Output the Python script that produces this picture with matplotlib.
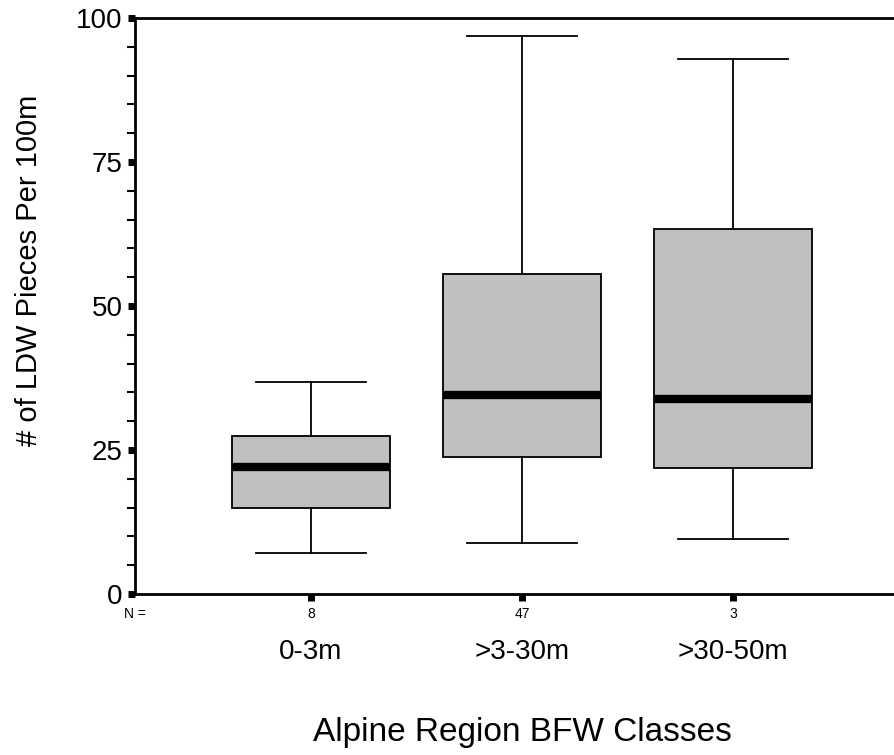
import numpy as np
import matplotlib.pyplot as plt
from matplotlib.ticker import MultipleLocator, FixedLocator

plt.rcParams['font.family'] = ['Liberation Sans', 'DejaVu Sans']

# klasy szerokości koryta i liczebności
klasy = ["0-3m", ">3-30m", ">30-50m"]
liczebnosc = [8, 47, 3]

# statystyki
dolneWasy = [7.1, 8.9, 9.5]
kwartyl1 = [14.9, 23.8, 21.9]
mediany = [22.0, 34.5, 33.9]
kwartyl3 = [27.4, 55.6, 63.4]
gorneWasy = [36.8, 96.9, 92.9]

statystyki = []
for i in range(len(klasy)):
    statystyki.append({
        "label": klasy[i],
        "whislo": dolneWasy[i],
        "q1": kwartyl1[i],
        "med": mediany[i],
        "q3": kwartyl3[i],
        "whishi": gorneWasy[i],
        "fliers": [],
    })

fig = plt.figure(figsize=(8.94, 7.55), dpi=100)
ax = fig.add_axes([135 / 894, 1 - 594 / 755, 1 - 135 / 894, (594 - 18) / 755])

pozycje = np.arange(1, len(klasy) + 1)
ax.bxp(statystyki, positions=pozycje, widths=0.75, capwidths=0.52,
       patch_artist=True, showfliers=False, manage_ticks=False,
       boxprops=dict(facecolor="#c0c0c0", edgecolor="black", linewidth=1.3),
       whiskerprops=dict(color="black", linewidth=1.3),
       capprops=dict(color="black", linewidth=1.3),
       medianprops=dict(color="black", linewidth=6, solid_capstyle="butt"))

ax.set_xlim(0.166, 3.763)
ax.set_ylim(0, 100)

ax.spines["right"].set_visible(False)
for s in ["left", "bottom", "top"]:
    ax.spines[s].set_linewidth(2)

ax.yaxis.set_major_locator(MultipleLocator(25))
ax.yaxis.set_minor_locator(FixedLocator([v for v in range(5, 100, 5) if v % 25 != 0]))
ax.tick_params(axis="y", which="major", direction="out", length=5, width=5,
               labelsize=20, pad=4)
ax.tick_params(axis="y", which="minor", direction="out", length=6, width=1.5)

ax.set_xticks(pozycje)
ax.set_xticklabels([str(n) for n in liczebnosc])
ax.tick_params(axis="x", which="major", direction="out", length=5, width=5,
               labelsize=10, pad=4)

for i in range(len(klasy)):
    ax.text(pozycje[i], -0.1007, klasy[i], transform=ax.get_xaxis_transform(),
            ha="center", va="center", fontsize=20)
ax.text(0, -0.0347, "N =", transform=ax.transAxes, ha="center", va="center",
        fontsize=10)

fig.text(29 / 894, 1 - 270 / 755, "# of LDW Pieces Per 100m", rotation=90,
         ha="center", va="center", fontsize=21)
fig.text(522 / 894, 1 - 732 / 755, "Alpine Region BFW Classes",
         ha="center", va="center", fontsize=24)

fig.savefig("out.png", dpi=100)
